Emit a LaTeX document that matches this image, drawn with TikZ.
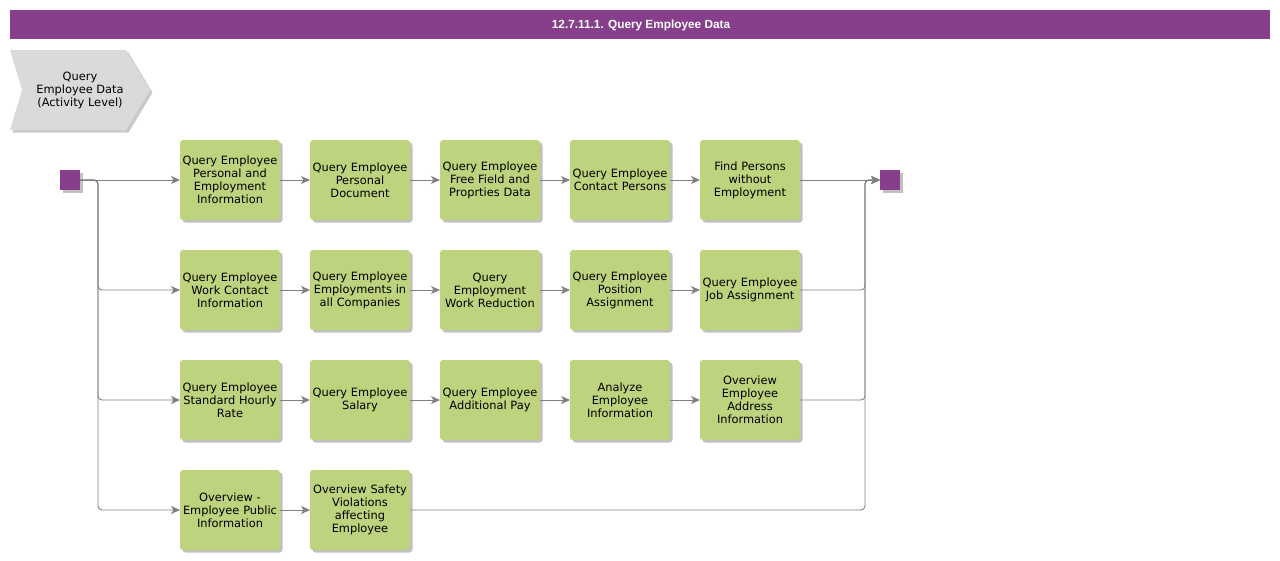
\documentclass[tikz,border=0pt]{standalone}
\usepackage{fontspec}
\setmainfont{DejaVu Sans}
\newfontfamily\titlefont{Liberation Sans}
\usetikzlibrary{positioning,shadows,arrows.meta}
\definecolor{barpurple}{RGB}{135,63,140}
\definecolor{taskgreen}{RGB}{189,211,126}
\definecolor{chevgray}{RGB}{217,218,219}
\definecolor{linegray}{RGB}{128,128,128}

\begin{document}
\begin{tikzpicture}[
    x=1pt, y=-1pt,
    node distance=30pt,
    task/.style={rectangle, fill=taskgreen, rounded corners=3pt, minimum width=100pt, minimum height=80pt, inner sep=0pt, outer sep=0pt, text width=100pt, align=center, font=\fontsize{11.4}{13}\selectfont, drop shadow={shadow xshift=2.5pt, shadow yshift=-2.5pt, fill=black!35, opacity=0.7}},
    event/.style={rectangle, fill=barpurple, minimum size=20pt, inner sep=0pt, outer sep=0pt, drop shadow={shadow xshift=2.5pt, shadow yshift=-2.5pt, fill=black!35, opacity=0.7}},
    flow/.style={-{Stealth[length=9pt, width=8pt, inset=2.5pt]}, draw=linegray, line width=0.9pt, rounded corners=4pt}
]
\useasboundingbox (0,0) rectangle (1280,560);

% header
\fill[barpurple] (10,10) rectangle (1270,39);
\node[text=white, font=\titlefont\fontsize{11.8}{13}\selectfont\bfseries] (title) at (641,25) {12.7.11.1. Query Employee Data};

% activity chevron
\fill[black!30, opacity=0.7] (12.5,52.5) -- (128.5,52.5) -- (152.5,92.5) -- (128.5,132.5) -- (12.5,132.5) -- (24.5,92.5) -- cycle;
\fill[chevgray] (10,50) -- (126,50) -- (150,90) -- (126,130) -- (10,130) -- (22,90) -- cycle;
\node[align=center, font=\fontsize{11.4}{13}\selectfont] (activity) at (80,90) {Query\\Employee Data\\(Activity Level)};

% events
\node[event] (start) at (70,180) {};
\node[event] (stop) at (890,180) {};
\coordinate (split) at (98,180);
\coordinate (merge) at (865,180);

% row 1
\node[task] (persemp) at (230,180) {Query Employee\\Personal and\\Employment\\Information};
\node[task, right=of persemp] (persdoc) {Query Employee\\Personal\\Document};
\node[task, right=of persdoc] (freefield) {Query Employee\\Free Field and\\Proprties Data};
\node[task, right=of freefield] (contact) {Query Employee\\Contact Persons};
\node[task, right=of contact] (noemp) {Find Persons\\without\\Employment};

% row 2
\node[task, below=of persemp] (workcontact) {Query Employee\\Work Contact\\Information};
\node[task, right=of workcontact] (allcomp) {Query Employee\\Employments in\\all Companies};
\node[task, right=of allcomp] (workred) {Query\\Employment\\Work Reduction};
\node[task, right=of workred] (position) {Query Employee\\Position\\Assignment};
\node[task, right=of position] (jobassign) {Query Employee\\Job Assignment};

% row 3
\node[task, below=of workcontact] (hourly) {Query Employee\\Standard Hourly\\Rate};
\node[task, right=of hourly] (salary) {Query Employee\\Salary};
\node[task, right=of salary] (addpay) {Query Employee\\Additional Pay};
\node[task, right=of addpay] (analyze) {Analyze\\Employee\\Information};
\node[task, right=of analyze] (address) {Overview\\Employee\\Address\\Information};

% row 4
\node[task, below=of hourly] (public) {Overview -\\Employee Public\\Information};
\node[task, right=of public] (safety) {Overview Safety\\Violations\\affecting\\Employee};

% split
\draw[flow] (start) -- (persemp);
\draw[flow] (start) -- (split) |- (workcontact);
\draw[flow] (start) -- (split) |- (hourly);
\draw[flow] (start) -- (split) |- (public);

% rows
\draw[flow] (persemp) -- (persdoc);
\draw[flow] (persdoc) -- (freefield);
\draw[flow] (freefield) -- (contact);
\draw[flow] (contact) -- (noemp);
\draw[flow] (workcontact) -- (allcomp);
\draw[flow] (allcomp) -- (workred);
\draw[flow] (workred) -- (position);
\draw[flow] (position) -- (jobassign);
\draw[flow] (hourly) -- (salary);
\draw[flow] (salary) -- (addpay);
\draw[flow] (addpay) -- (analyze);
\draw[flow] (analyze) -- (address);
\draw[flow] (public) -- (safety);

% merge
\draw[flow] (noemp) -- (stop);
\draw[flow] (jobassign) -| (merge) -- (stop);
\draw[flow] (address) -| (merge) -- (stop);
\draw[flow] (safety) -| (merge) -- (stop);

\end{tikzpicture}
\end{document}
